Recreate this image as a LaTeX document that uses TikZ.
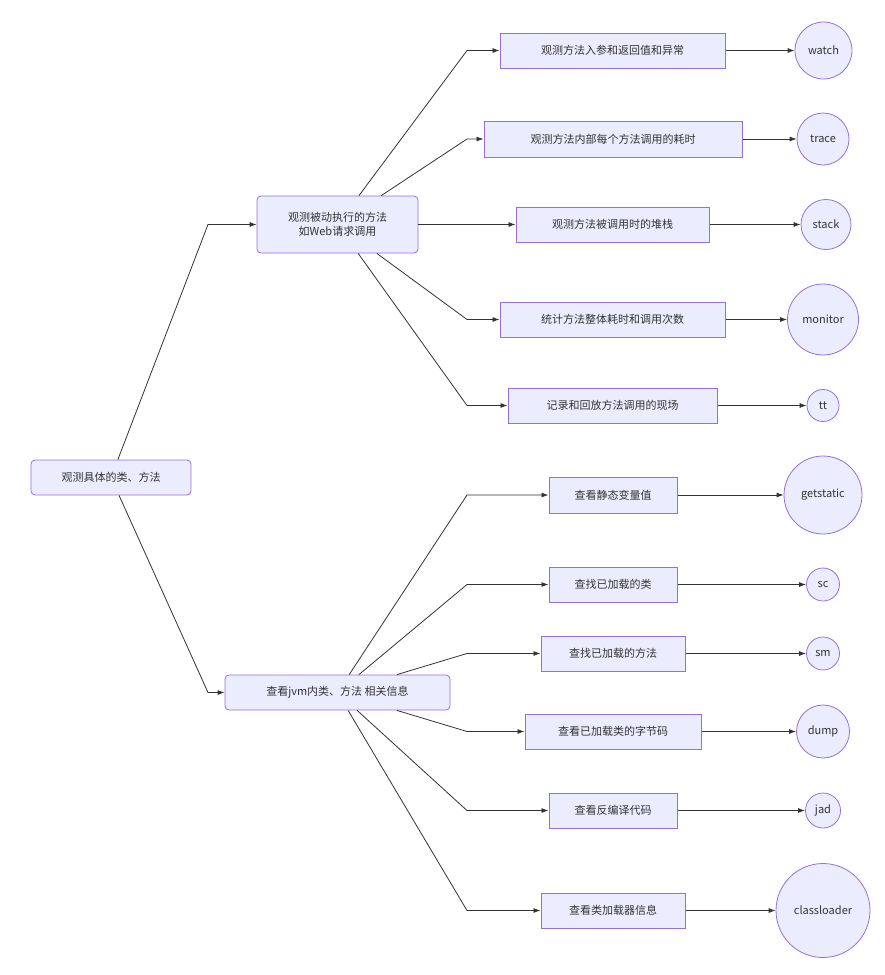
\documentclass[tikz,border=0pt]{standalone}
\usepackage{fontspec}
\setmainfont{Noto Sans CJK SC}
\usetikzlibrary{arrows.meta,calc}
\definecolor{mmfill}{HTML}{ECECFF}
\definecolor{mmline}{HTML}{9370DB}
\definecolor{mmtext}{HTML}{333333}
\tikzset{
  tree/.style={x=1pt,y=-1pt,font=\fontsize{11}{14}\selectfont,text=mmtext},
  topic/.style={draw=mmline,fill=mmfill,line width=0.8pt,rounded corners=4pt,minimum height=35,align=center,inner sep=2pt},
  task/.style={draw=mmline,fill=mmfill,line width=1pt,minimum height=35,inner sep=2pt},
  cmd/.style={circle,draw=mmline,fill=mmfill,line width=0.8pt,inner sep=0pt},
  link/.style={draw=mmtext,line width=0.8pt,-{Latex[length=7pt,width=5pt]}},
}

\begin{document}
\begin{tikzpicture}[tree]
  \useasboundingbox (0,0) rectangle (885,975);
  \coordinate (rx) at (208,0);
  \coordinate (jx) at (467,0);
  % main branches
  \node[topic,minimum width=160] (root) at (111,477.5) {观测具体的类、方法};
  \node[topic,minimum width=161,minimum height=57] (obs) at (337.5,224.5) {观测被动执行的方法\\如Web请求调用};
  \node[topic,minimum width=225] (jvm) at (337.5,692.5) {查看jvm内类、方法 相关信息};
  % leaves
  \node[task,minimum width=225] (t1) at (612.5,50.5) {观测方法入参和返回值和异常};
  \node[task,minimum width=258,minimum height=36] (t2) at (613,139) {观测方法内部每个方法调用的耗时};
  \node[task,minimum width=193] (t3) at (612.5,224.5) {观测方法被调用时的堆栈};
  \node[task,minimum width=225] (t4) at (612.5,319.5) {统计方法整体耗时和调用次数};
  \node[task,minimum width=209] (t5) at (612.5,405.5) {记录和回放方法调用的现场};
  \node[task,minimum width=128,minimum height=36] (t6) at (613,495) {查看静态变量值};
  \node[task,minimum width=128] (t7) at (613,584.5) {查找已加载的类};
  \node[task,minimum width=144] (t8) at (613,653.5) {查找已加载的方法};
  \node[task,minimum width=176] (t9) at (613,731.5) {查看已加载类的字节码};
  \node[task,minimum width=128] (t10) at (613,810.5) {查看反编译代码};
  \node[task,minimum width=144] (t11) at (613,910.5) {查看类加载器信息};
  % commands
  \node[cmd,minimum size=57] (c1) at (823.5,50.5) {watch};
  \node[cmd,minimum size=52] (c2) at (823,139) {trace};
  \node[cmd,minimum size=50] (c3) at (826,224.5) {stack};
  \node[cmd,minimum size=71] (c4) at (823,319.5) {monitor};
  \node[cmd,minimum size=32] (c5) at (823,405.5) {tt};
  \node[cmd,minimum size=78] (c6) at (823,495) {getstatic};
  \node[cmd,minimum size=33] (c7) at (823,584.5) {sc};
  \node[cmd,minimum size=33] (c8) at (823,653.5) {sm};
  \node[cmd,minimum size=53] (c9) at (823,731.5) {dump};
  \node[cmd,minimum size=35] (c10) at (823,810.5) {jad};
  \node[cmd,minimum size=94] (c11) at (823,910.5) {classloader};
  % connectors
  \draw[link] (root) -- (obs -| rx) -- (obs);
  \draw[link] (root) -- (jvm -| rx) -- (jvm);
  \foreach \t in {1,...,5}
    \draw[link] (obs) -- (t\t -| jx) -- (t\t);
  \foreach \t in {6,...,11}
    \draw[link] (jvm) -- (t\t -| jx) -- (t\t);
  \foreach \t in {1,...,11}
    \draw[link] (t\t) -- (c\t);
\end{tikzpicture}
\end{document}
